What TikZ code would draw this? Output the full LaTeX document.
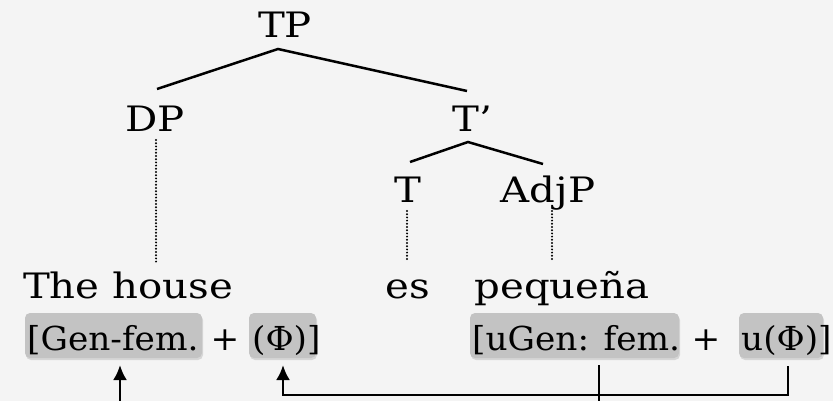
\documentclass[tikz,border=0pt]{standalone}
\usepackage{fontspec}
\setmainfont[FakeStretch=1.15]{DejaVu Serif}
\newfontfamily\featfont[FakeStretch=1.04]{DejaVu Serif}
\usetikzlibrary{arrows.meta,shadows}
\definecolor{bg}{HTML}{F4F4F4}
\definecolor{boxgray}{HTML}{C3C3C3}
\begin{document}
\begin{tikzpicture}[x=1pt,y=-1pt,
  lbl/.style={font=\fontsize{35}{40}\selectfont, inner sep=0pt, anchor=base},
  feat/.style={font=\featfont\fontsize{33}{38}\selectfont, inner sep=0pt, anchor=base west},
  fbox/.style={fill=boxgray, rounded corners=5pt, inner sep=0pt,
    drop shadow={shadow xshift=1pt, shadow yshift=-2pt, opacity=0.25}},
  branch/.style={line width=2.5pt},
  dots/.style={line width=2.2pt, line cap=round, dash pattern=on 0pt off 3.2pt},
  link/.style={line width=2.8pt},
  tip/.style={-{Latex[length=15pt,width=14pt]}}
]
\fill[bg] (0,0) rectangle (833,401);
\useasboundingbox (0,0) rectangle (833,401);

% tree labels
\node[lbl] (TP) at (285,38) {TP};
\node[lbl] (DP) at (155,132) {DP};
\node[lbl] (Tbar) at (472,132) {T’};
\node[lbl] (T) at (408,203) {T};
\node[lbl] (AdjP) at (548,203) {AdjP};
\node[lbl] (house) at (128,298) {The house};
\node[lbl] (es) at (408,298) {es};
\node[lbl] (peq) at (562,298) {pequeña};

% branch points
\coordinate (tpA) at (278,49);
\coordinate (dpT) at (157,89);
\coordinate (tbT) at (467,91);
\coordinate (tbA) at (468,142);
\coordinate (tT) at (410,162);
\coordinate (adjT) at (543,164);
\coordinate (dpB) at (156,140);
\coordinate (houseT) at (156,262);
\coordinate (tB) at (407,211);
\coordinate (esT) at (407,262);
\coordinate (adjB) at (552,211);
\coordinate (peqT) at (552,262);

\draw[branch] (dpT) -- (tpA) -- (tbT);
\draw[branch] (tT) -- (tbA) -- (adjT);
\draw[dots] (dpB) -- (houseT);
\draw[dots] (tB) -- (esT);
\draw[dots] (adjB) -- (peqT);

% feature boxes
\node[fbox, minimum width=177pt, minimum height=45pt] (b1) at (113.5,335.5) {};
\node[fbox, minimum width=67pt, minimum height=45pt] (b2) at (282.5,335.5) {};
\node[fbox, minimum width=209pt, minimum height=45pt] (b3) at (574.5,335.5) {};
\node[fbox, minimum width=84pt, minimum height=45pt] (b4) at (781,335.5) {};

\node[feat] (f1) at (27,350) {[Gen-fem.};
\node[feat, anchor=base] (p1) at (225,350) {+};
\node[feat] (f2) at (252,350) {(Φ)]};
\node[feat] (f3) at (472,350) {[uGen: fem.};
\node[feat, anchor=base] (p2) at (706,350) {+};
\node[feat] (f4) at (741,350) {u(Φ)]};

% agreement links
\coordinate (a1s) at (120,401);
\coordinate (a1e) at (120,365);
\coordinate (b3s) at (599,365);
\coordinate (b3e) at (599,401);
\coordinate (b4s) at (788,366);
\coordinate (c1) at (788,395);
\coordinate (c2) at (283,395);
\coordinate (a2e) at (283,365);

\draw[link,tip] (a1s) -- (a1e);
\draw[link] (b3s) -- (b3e);
\draw[link,tip] (b4s) -- (c1) -- (c2) -- (a2e);
\end{tikzpicture}
\end{document}
